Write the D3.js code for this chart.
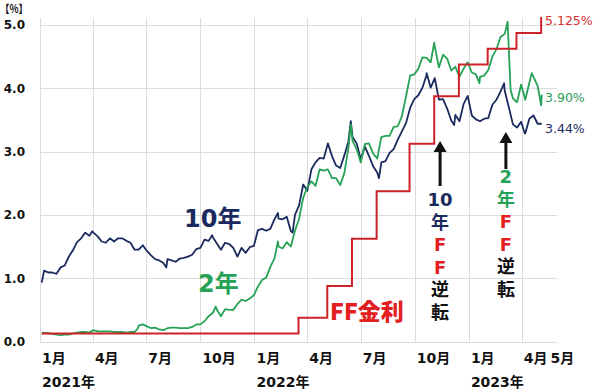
<!DOCTYPE html>
<html><head><meta charset="utf-8">
<script src="https://cdn.jsdelivr.net/npm/d3@7"></script>
<style>body{margin:0;background:#fff}svg{display:block}</style>
</head><body><svg id="c" width="600" height="391"></svg>
<script>
// ---------- data ----------
const yTicks = [0, 1, 2, 3, 4, 5];
const monthTickDates = ["2021-01-01","2021-04-01","2021-07-01","2021-10-01","2022-01-01","2022-04-01","2022-07-01","2022-10-01","2023-01-01","2023-04-01","2023-05-01"];
const monthTickLabels = ["1月","4月","7月","10月","1月","4月","7月","10月","1月","4月","5月"];
const yearDates = ["2021-01-01","2022-01-01","2023-01-01"];
const yearLabels = ["2021年","2022年","2023年"];

const firstDate = "2021-01-04";
const tenYearFirst = 0.93;
const twoYearFirst = 0.12;
// weekly (Friday) closes, 2021-01-08 .. 2023-05-05
const tenYearWeekly = [
  1.12,1.09,1.09,1.07, 1.17,1.20,1.34,1.44, 1.57,1.63,1.72,1.67,
  1.72,1.66,1.58,1.56,1.63, 1.58,1.63,1.63,1.59, 1.56,1.45,1.45,1.52,
  1.43,1.36,1.30,1.28,1.24, 1.30,1.28,1.26,1.31, 1.32,1.34,1.37,1.46,
  1.48,1.61,1.59,1.65,1.55, 1.45,1.56,1.54,1.48, 1.34,1.48,1.40,1.49,1.51,
  1.76,1.78,1.75,1.78, 1.93,1.94,1.93,1.97, 1.74,2.00,2.15,2.48,
  2.38,2.72,2.83,2.90,2.89, 3.13,2.93,2.78,2.74, 2.94,3.16,3.23,3.13,
  2.88,3.08,2.93,2.77,2.67, 2.83,2.85,2.98,3.04, 3.19,3.32,3.45,3.69,3.83,
  3.89,4.01,4.21,4.01, 4.16,3.82,3.83,3.68, 3.49,3.58,3.48,3.75,3.88,
  3.57,3.51,3.48,3.52, 3.53,3.74,3.82,3.95, 3.96,3.70,3.43,3.38,3.47,
  3.29,3.52,3.57,3.44, 3.44
];
const twoYearWeekly = [
  0.14,0.13,0.12,0.11, 0.10,0.11,0.11,0.13, 0.14,0.15,0.15,0.14,
  0.18,0.16,0.16,0.16,0.16, 0.15,0.15,0.15,0.14, 0.15,0.15,0.25,0.27,
  0.24,0.21,0.22,0.19,0.18, 0.21,0.22,0.22,0.21, 0.21,0.21,0.23,0.27,
  0.27,0.32,0.40,0.45,0.50, 0.40,0.51,0.50,0.50, 0.59,0.66,0.64,0.68,0.73,
  0.87,0.97,1.01,1.18, 1.31,1.50,1.47,1.57, 1.50,1.75,1.94,2.27,
  2.44,2.53,2.46,2.72,2.70, 2.72,2.58,2.58,2.47, 2.66,3.06,3.17,3.04,
  2.83,3.12,3.13,2.97,2.89, 3.23,3.25,3.25,3.39, 3.40,3.56,3.87,4.20,4.22,
  4.31,4.49,4.48,4.41, 4.66,4.33,4.53,4.47, 4.28,4.34,4.18,4.31,4.41,
  4.25,4.22,4.18,4.20, 4.29,4.50,4.62,4.81, 4.86,4.60,3.84,3.78,4.06,
  3.82,4.09,4.18,4.04, 3.90
];
// extra mid-week extremes
const tenYearExtraDates = ["2021-03-31","2021-08-04","2021-10-21","2022-02-10","2022-03-07","2022-05-06","2022-06-14","2022-08-01","2022-10-21","2022-12-07","2023-03-02","2023-04-06"];
const tenYearExtraValues = [1.74,1.17,1.68,2.03,1.72,3.13,3.48,2.58,4.24,3.42,4.08,3.29];
const twoYearExtraDates = ["2021-06-16","2021-10-27","2022-02-10","2022-06-14","2022-11-03","2023-01-19","2023-03-08","2023-03-13","2023-04-18","2023-05-04"];
const twoYearExtraValues = [0.20,0.55,1.58,3.43,4.72,4.08,5.05,3.98,4.24,3.73];

const ffDates = ["2021-01-04","2022-03-17","2022-05-05","2022-06-16","2022-07-28","2022-09-22","2022-11-03","2022-12-15","2023-02-02","2023-03-23","2023-05-04"];
const ffValues = [0.125,0.375,0.875,1.625,2.375,3.125,3.875,4.375,4.625,4.875,5.125];

const endLabelTexts = ["5.125%","3.90%","3.44%"];

// ---------- build ----------
const parse = d3.timeParse("%Y-%m-%d");
const fridays = d3.timeFriday.range(new Date(2021,0,8), new Date(2023,4,6));
function buildSeries(firstVal, weekly, exDates, exVals){
  const pts = [{d: parse(firstDate), v: firstVal}];
  weekly.forEach((v,i)=>{ if (fridays[i]) pts.push({d: fridays[i], v}); });
  exDates.forEach((s,i)=>pts.push({d: parse(s), v: exVals[i]}));
  pts.sort((a,b)=>a.d-b.d);
  return pts;
}
const tenYear = buildSeries(tenYearFirst, tenYearWeekly, tenYearExtraDates, tenYearExtraValues);
const twoYear = buildSeries(twoYearFirst, twoYearWeekly, twoYearExtraDates, twoYearExtraValues);
const ff = ffDates.map((s,i)=>({d: parse(s), v: ffValues[i]}));

const svg = d3.select("#c");
const x = d3.scaleTime().domain([new Date(2021,0,1), new Date(2023,4,31)]).range([40,557]);
const y = d3.scaleLinear().domain([0,5]).range([341.5,25]);

const NUM = "'DejaVu Sans','Noto Sans CJK JP',sans-serif";
const JP = "'Noto Sans CJK JP','DejaVu Sans',sans-serif";
const NAVY = "#1b2a5e", GREEN = "#26a257", RED = "#cc2228", RED_T = "#e3201f";

// grid
const grid = svg.append("g").attr("stroke","#dcdcdc").attr("stroke-width",1);
grid.selectAll("line.h").data(yTicks).join("line")
  .attr("x1",40).attr("x2",557).attr("y1",d=>Math.round(y(d))+0.5).attr("y2",d=>Math.round(y(d))+0.5);
const vDates = d3.timeMonth.every(3).range(new Date(2021,0,1), new Date(2023,4,1));
grid.selectAll("line.v").data(vDates).join("line")
  .attr("x1",d=>Math.round(x(d))+0.5).attr("x2",d=>Math.round(x(d))+0.5)
  .attr("y1",18).attr("y2",y(0));

// y labels
svg.append("g").selectAll("text").data(yTicks).join("text")
  .attr("x",25).attr("y",d=>y(d)).attr("dy","0.36em").attr("text-anchor","end")
  .style("font-family",NUM).style("font-size","12px").style("font-weight","bold").attr("fill","#111")
  .text(d=>d.toFixed(1));
svg.append("text").attr("x",0).attr("y",13).attr("textLength",28).attr("lengthAdjust","spacingAndGlyphs")
  .style("font-family",JP).style("font-size","11px").style("font-weight","bold").attr("fill","#111").text("【%】");

// x labels
let prevEnd = -Infinity;
const mg = svg.append("g");
monthTickDates.forEach((s,i)=>{
  let px = Math.max(x(parse(s))+2, prevEnd+3);
  const t = mg.append("text").attr("x",px).attr("y",363)
    .style("font-family",NUM).style("font-size","14px").style("font-weight","bold").attr("fill","#111")
    .text(monthTickLabels[i]);
  prevEnd = px + t.node().getComputedTextLength();
});
yearDates.forEach((s,i)=>{
  svg.append("text").attr("x",x(parse(s))+2).attr("y",387)
    .style("font-family",NUM).style("font-size","14px").style("font-weight","bold").attr("fill","#111")
    .text(yearLabels[i]);
});

// lines
const line = d3.line().x(d=>x(d.d)).y(d=>y(d.v));
svg.append("path").datum(tenYear).attr("d",line).attr("fill","none").attr("stroke",NAVY).attr("stroke-width",1.8).attr("stroke-linejoin","round");
svg.append("path").datum(twoYear).attr("d",line).attr("fill","none").attr("stroke",GREEN).attr("stroke-width",1.8).attr("stroke-linejoin","round");
svg.append("path").datum(ff).attr("d",line.curve(d3.curveStepAfter)).attr("fill","none").attr("stroke",RED).attr("stroke-width",2);

// end labels
const lastTen = tenYear[tenYear.length-1].v, lastTwo = twoYear[twoYear.length-1].v, lastFF = ff[ff.length-1].v;
[[endLabelTexts[0], lastFF, 3, "#d8322c"],[endLabelTexts[1], lastTwo, 3, "#2a9e5a"],[endLabelTexts[2], lastTen, 5, NAVY]].forEach(([t,v,off,c])=>{
  svg.append("text").attr("x",545).attr("y",y(v)+off).attr("dy","0.36em")
    .style("font-family",NUM).style("font-size","12.5px").attr("fill",c).text(t);
});

// series labels
function big(txt,xx,yy,c,fs){
  svg.append("text").attr("x",xx).attr("y",yy).style("font-family",NUM).style("font-size",fs+"px")
    .style("font-weight","bold").attr("fill",c).text(txt);
}
big("10年",184,227,NAVY,24);
big("2年",198,292,GREEN,24);
svg.append("text").attr("x",330).attr("y",320).style("font-family",JP).style("font-size","23px")
  .style("font-weight","900").attr("fill",RED_T).text("FF金利");

// arrows with vertical captions
function arrow(cx, tip, bottom){
  svg.append("line").attr("x1",cx).attr("x2",cx).attr("y1",tip+8).attr("y2",bottom).attr("stroke","#111").attr("stroke-width",3);
  svg.append("path").attr("d",`M${cx},${tip} L${cx-6.5},${tip+11} L${cx+6.5},${tip+11} Z`).attr("fill","#111");
}
function vcap(cx, items){
  items.forEach(([t,yy,c])=>{
    svg.append("text").attr("x",cx).attr("y",yy).attr("dy","0.36em").attr("text-anchor","middle")
      .style("font-family",NUM).style("font-size","18px").style("font-weight","bold")
      .attr("fill",c).text(t);
  });
}
const a1 = x(parse("2022-11-13")), a2 = x(parse("2023-03-05"));
arrow(a1,141,186);
arrow(a2,132,169);
vcap(a1,[["10",200,NAVY],["年",222.5,NAVY],["F",245,RED_T],["F",267.5,RED_T],["逆",290,"#111"],["転",312.5,"#111"]]);
vcap(a2,[["2",177,GREEN],["年",199.5,GREEN],["F",222,RED_T],["F",244.5,RED_T],["逆",267,"#111"],["転",289.5,"#111"]]);
</script>
</body></html>
